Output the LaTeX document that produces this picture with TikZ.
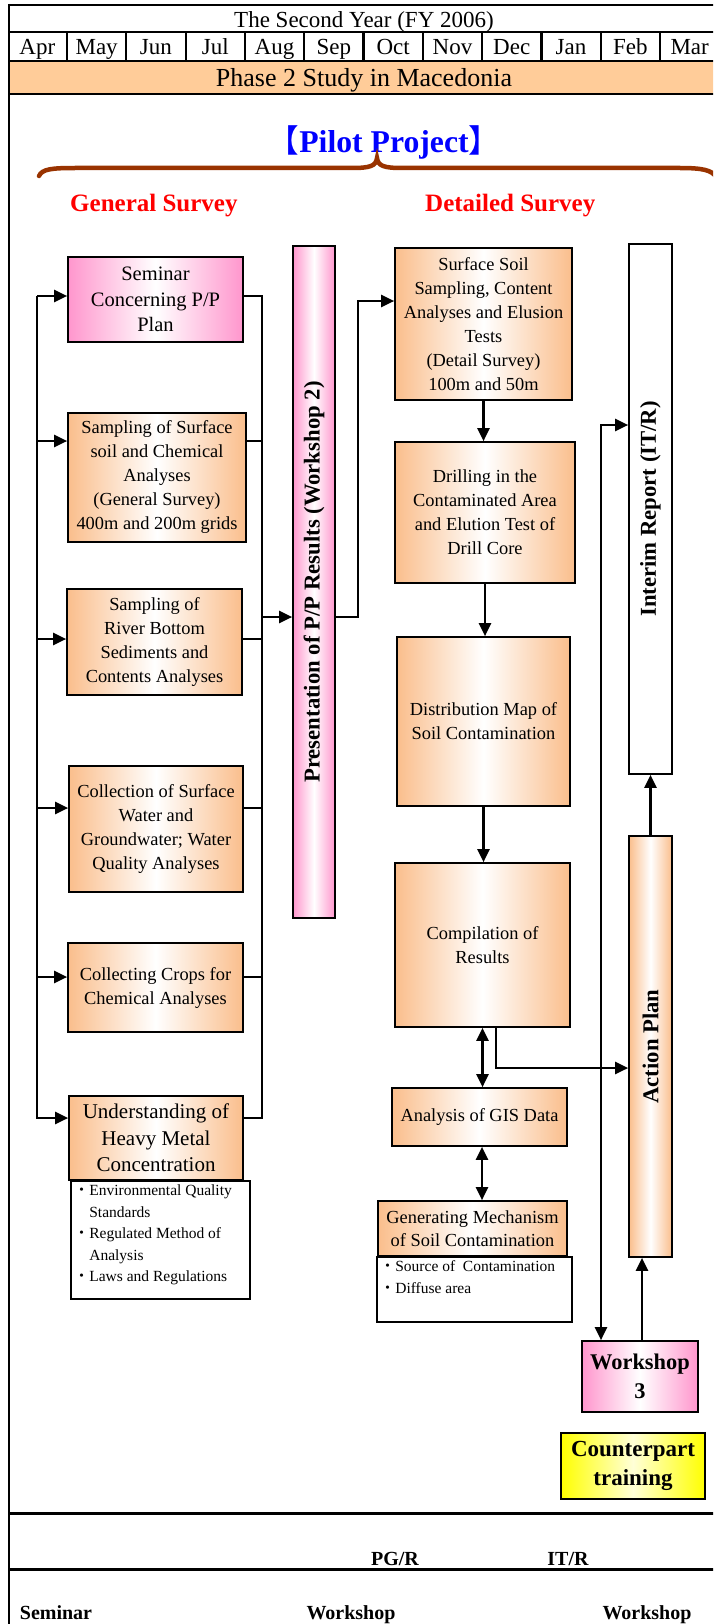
\documentclass[tikz,border=0pt]{standalone}
\usepackage{fontspec}
\usepackage{graphicx}
\setmainfont{Liberation Serif}
\newfontfamily\cjk{Noto Sans CJK JP}
\usetikzlibrary{arrows.meta}
\definecolor{peach}{RGB}{250,190,140}
\definecolor{bandc}{RGB}{255,204,153}
\definecolor{pinkc}{RGB}{255,150,205}
\definecolor{brownb}{RGB}{153,51,0}
\definecolor{yelc}{RGB}{255,255,0}
\definecolor{lyelc}{RGB}{255,255,215}
\newcommand{\fs}[2]{\fontsize{#1}{#2}\selectfont}
\newcommand{\bul}{{\cjk ・}}
\begin{document}
\begin{tikzpicture}[x=1pt,y=-1pt,
 frm/.style={line width=2.2pt},
 conn/.style={line width=2.2pt},
 arr/.style={conn,-{Triangle[length=13pt,width=12pt]}},
 darr/.style={conn,{Triangle[length=13pt,width=12pt]}-{Triangle[length=13pt,width=12pt]}},
 bx/.style={draw, line width=1.7pt, inner sep=0pt, align=center},
 obox/.style={bx, left color=peach, right color=peach, middle color=white, font=\fs{18.4}{24}},
 pbox/.style={bx, left color=pinkc, right color=pinkc, middle color=white},
 nbox/.style={bx, fill=white},
 hdr/.style={anchor=base, inner sep=0pt, font=\fs{23}{27}},
 bot/.style={anchor=base, inner sep=0pt, font=\bfseries\fs{20}{24}}
]
\useasboundingbox (0,0) rectangle (713,1624);
\clip (0,0) rectangle (713,1624);

% header frame
\fill[bandc] (9,62) rectangle (720,93);
\draw[frm] (8,5) -- (720,5);
\draw[frm] (8,32) -- (720,32);
\draw[frm] (8,61) -- (720,61);
\draw[line width=2.8pt] (8,94) -- (720,94);
\draw[frm] (9,4) -- (9,1624);
\foreach \k in {1,...,11} \draw[frm] ({7.7+59.3*\k},32) -- ({7.7+59.3*\k},61);
\draw[line width=3pt] (8,1513) -- (720,1513);
\draw[line width=3pt] (8,1569) -- (720,1569);

\node[hdr] (title) at (364,27.5) {The Second Year (FY 2006)};
\foreach \m [count=\i] in {Apr,May,Jun,Jul,Aug,Sep,Oct,Nov,Dec,Jan,Feb,Mar}
  \node[hdr] (m\i) at ({7.7+59.3*(\i-0.5)},55) {\m};
\node[hdr, font=\fs{26}{30}] (phase) at (364,87) {Phase 2 Study in Macedonia};

% pilot project and brace
\node[anchor=base, inner sep=0pt, text=blue, font=\bfseries\fs{31.7}{36}] (pilot) at (384,153)
  {{\cjk\mdseries 【}Pilot Project{\cjk\mdseries 】}};
\draw[brownb, line width=4.5pt, line cap=round]
  (39,176) .. controls (42,169) and (52,168) .. (75,168) -- (352,168)
  .. controls (370,168) and (376,166) .. (377,158)
  .. controls (378,166) and (384,168) .. (402,168) -- (680,168)
  .. controls (702,168) and (712,170) .. (716,177);
\node[anchor=base west, inner sep=0pt, text=red, font=\bfseries\fs{25}{30}] (gs) at (70,211.5) {General Survey};
\node[anchor=base west, inner sep=0pt, text=red, font=\bfseries\fs{25}{30}] (ds) at (425,211.5) {Detailed Survey};

% left column
\node[pbox, minimum width=175pt, minimum height=85pt, font=\fs{20.5}{25.7}] (sem) at (155.5,299.5) {Seminar\\Concerning P/P\\Plan};
\node[obox, minimum width=178pt, minimum height=129pt] (samp) at (157,477.5) {Sampling of Surface\\soil and Chemical\\Analyses\\(General Survey)\\400m and 200m grids};
\node[obox, minimum width=175pt, minimum height=106pt] (river) at (154.5,642) {Sampling of\\River Bottom\\Sediments and\\Contents Analyses};
\node[obox, minimum width=174pt, minimum height=126pt] (coll) at (156,829) {Collection of Surface\\Water and\\Groundwater; Water\\Quality Analyses};
\node[obox, minimum width=175pt, minimum height=89pt] (crops) at (155.5,987.5) {Collecting Crops for\\Chemical Analyses};
\node[obox, minimum width=174pt, minimum height=84pt, font=\fs{21}{26.5}] (und) at (156,1138) {Understanding of\\Heavy Metal\\Concentration};
\node[nbox, anchor=north west] (undnote) at (70,1180) {\parbox[c][118pt][t]{179pt}{\fs{15.5}{21.5}\raggedright\leftskip=3pt\strut\bul Environmental Quality\\\hphantom{\bul}Standards\\\bul Regulated Method of\\\hphantom{\bul}Analysis\\\bul Laws and Regulations}};

\node[pbox, minimum width=42pt, minimum height=672pt] (pp) at (314,582) {\rotatebox{90}{\bfseries\fs{22.7}{27}Presentation of P/P Results (Workshop 2)}};

% right column
\node[obox, minimum width=177pt, minimum height=152pt] (surf) at (483.5,324) {Surface Soil\\Sampling, Content\\Analyses and Elusion\\Tests\\ (Detail Survey)\\100m and 50m};
\node[obox, minimum width=180pt, minimum height=141pt] (drill) at (485,512.5) {Drilling in the\\Contaminated Area\\and Elution Test of\\Drill Core};
\node[obox, minimum width=173pt, minimum height=169pt] (dist) at (483.5,721.5) {Distribution Map of\\Soil Contamination};
\node[obox, minimum width=175pt, minimum height=164pt] (comp) at (482.5,945) {Compilation of\\Results};
\node[obox, minimum width=175pt, minimum height=58pt] (gis) at (479.5,1117) {Analysis of GIS Data};
\node[obox, minimum width=189pt, minimum height=55pt, font=\fs{18.4}{23.3}] (gen) at (472.5,1228.5) {Generating Mechanism\\of Soil Contamination};
\node[nbox, anchor=north west] (gennote) at (376,1256) {\parbox[c][65pt][t]{195pt}{\fs{15.5}{21.5}\raggedright\leftskip=3pt\strut\bul Source of\ \ Contamination\\\bul Diffuse area}};

\node[bx, fill=white, minimum width=43pt, minimum height=530pt] (interim) at (650.5,509) {\rotatebox{90}{\bfseries\fs{22.7}{27}Interim Report (IT/R)}};
\node[obox, minimum width=43pt, minimum height=421pt] (action) at (650.5,1046.5) {\rotatebox{90}{\bfseries\fs{22.7}{27}Action Plan}};
\node[pbox, minimum width=116pt, minimum height=71pt, font=\bfseries\fs{22.4}{29}] (ws3) at (640,1376.5) {Workshop\\3};
\node[bx, left color=yelc, right color=yelc, middle color=lyelc, minimum width=144pt, minimum height=66pt, font=\bfseries\fs{23}{29}] (cpt) at (633,1466) {Counterpart\\training};

% bottom texts
\node[bot] (pgr) at (395,1565) {PG/R};
\node[bot] (itr) at (568,1565) {IT/R};
\node[bot] (bsem) at (56,1619) {Seminar};
\node[bot] (bws1) at (351,1619) {Workshop};
\node[bot] (bws2) at (647,1619) {Workshop};

% left bus
\coordinate (L1) at (37,296);
\coordinate (L2) at (37,441);
\coordinate (L3) at (37,639);
\coordinate (L4) at (37,808);
\coordinate (L5) at (37,977);
\coordinate (L6) at (37,1118);
\draw[arr] (L1) -- (L6) -- (L6 -| und.west);
\draw[arr] (L1) -- (L1 -| sem.west);
\draw[arr] (L2) -- (L2 -| samp.west);
\draw[arr] (L3) -- (L3 -| river.west);
\draw[arr] (L4) -- (L4 -| coll.west);
\draw[arr] (L5) -- (L5 -| crops.west);

% right bus
\coordinate (R1) at (262,296);
\coordinate (R2) at (262,441);
\coordinate (R3) at (262,639);
\coordinate (R4) at (262,808);
\coordinate (R5) at (262,977);
\coordinate (R6) at (262,1118);
\coordinate (RP) at (262,617);
\draw[conn] (R1 -| sem.east) -- (R1) -- (R6) -- (R6 -| und.east);
\draw[conn] (R2 -| samp.east) -- (R2);
\draw[conn] (R3 -| river.east) -- (R3);
\draw[conn] (R4 -| coll.east) -- (R4);
\draw[conn] (R5 -| crops.east) -- (R5);
\draw[arr] (RP) -- (RP -| pp.west);

% presentation -> detailed survey
\coordinate (C1) at (358,617);
\coordinate (C2) at (358,301);
\draw[arr] (C1 -| pp.east) -- (C1) -- (C2) -- (C2 -| surf.west);

% right column flow
\draw[arr] (surf.south) -- (surf.south |- drill.north);
\draw[arr] (drill.south) -- (drill.south |- dist.north);
\draw[arr] (dist.south) -- (dist.south |- comp.north);
\draw[darr] (comp.south) -- (comp.south |- gis.north);
\coordinate (G1) at (482,1150);
\draw[darr] (gis.south -| G1) -- (gen.north -| G1);
\coordinate (CA) at (496,1068);
\draw[arr] (comp.south -| CA) -- (CA) -- (CA -| action.west);
\coordinate (V1) at (601,425);
\draw[darr] (V1 -| interim.west) -- (V1) -- (V1 |- ws3.north);
\coordinate (W1) at (642,1300);
\draw[arr] (ws3.north -| W1) -- (action.south -| W1);
\draw[arr] (action.north) -- (interim.south);
\end{tikzpicture}
\end{document}
